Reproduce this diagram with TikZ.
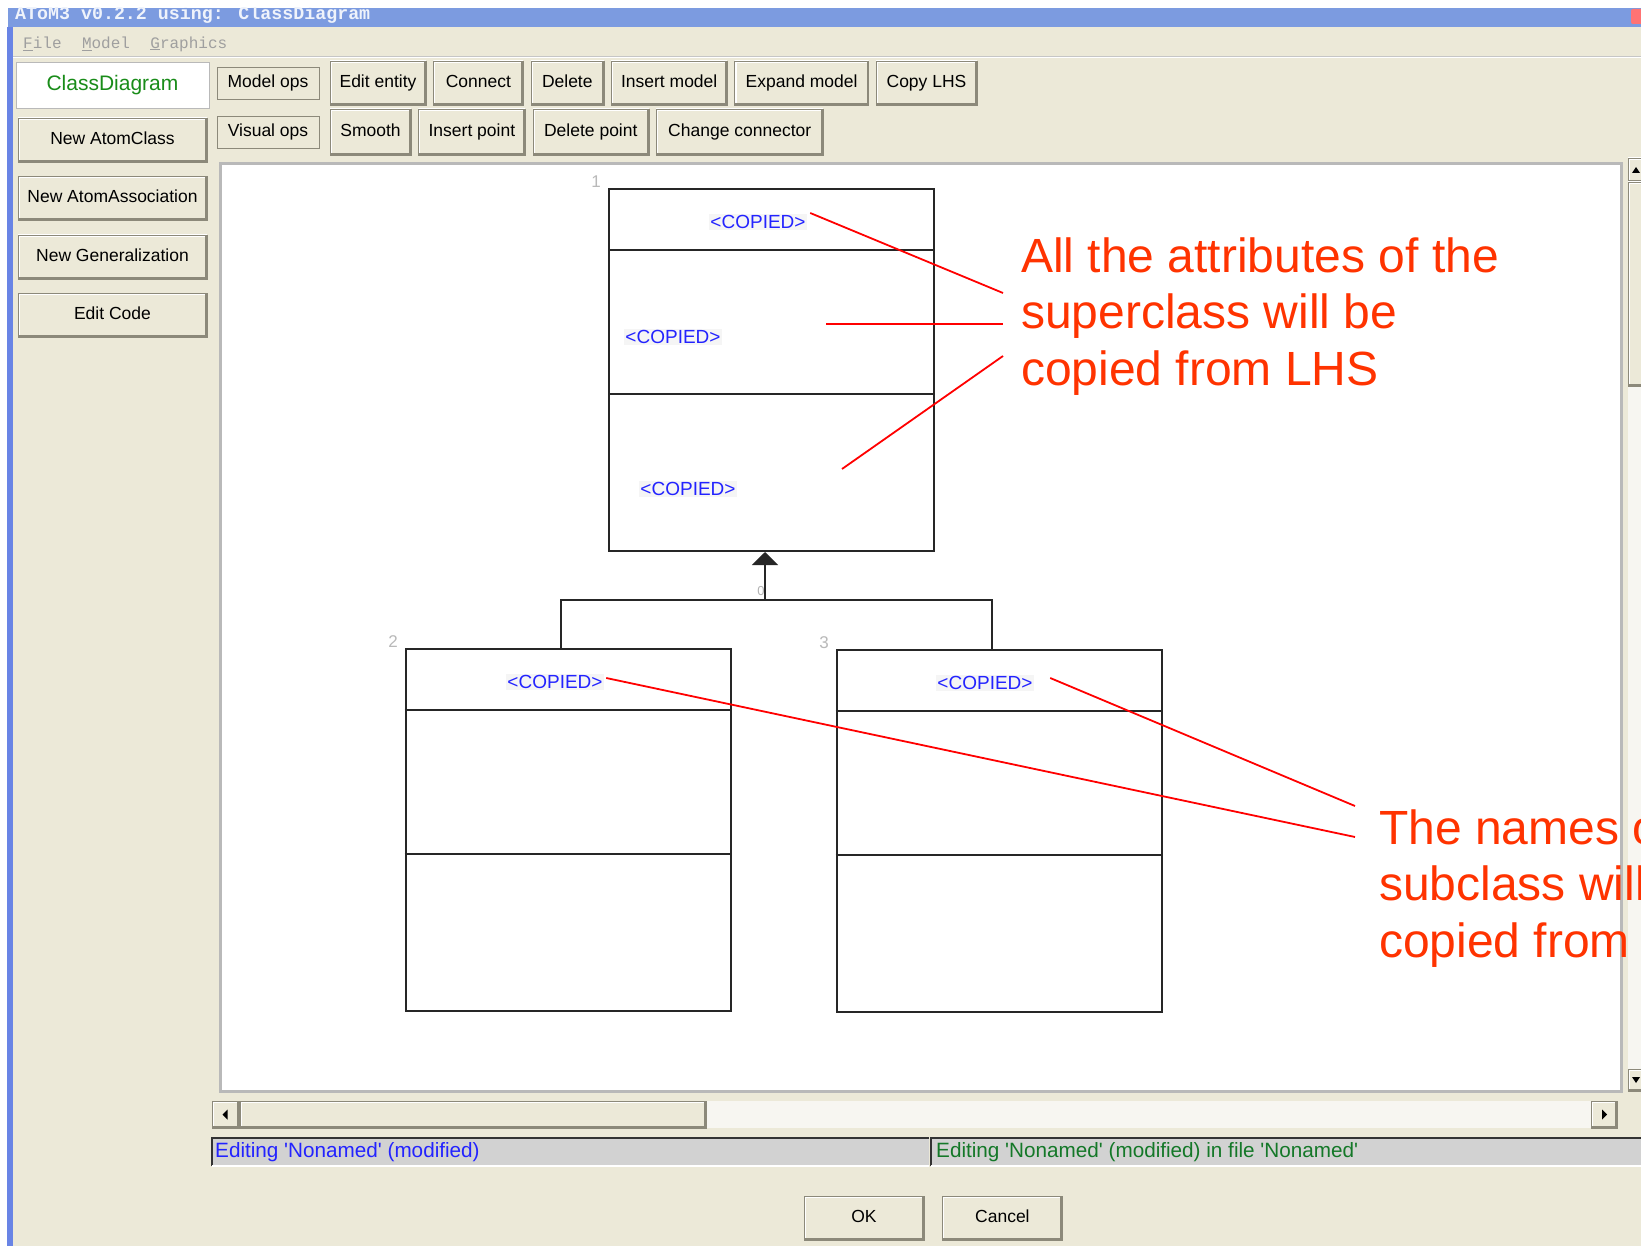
\documentclass[tikz,border=0pt]{standalone}
\usepackage{fontspec}
\setmainfont{Liberation Sans}
\newfontfamily\monofont{Liberation Mono}
\usetikzlibrary{arrows.meta,positioning,calc}

\definecolor{winbg}{RGB}{236,233,216}
\definecolor{btnshadow}{RGB}{140,137,122}
\definecolor{titleblue}{RGB}{124,155,224}
\definecolor{statusgrey}{RGB}{210,210,210}
\definecolor{copiedblue}{RGB}{35,35,255}
\definecolor{cdgreen}{RGB}{25,140,25}
\definecolor{stgreen}{RGB}{20,120,40}
\definecolor{annored}{RGB}{255,51,0}
\definecolor{tracklight}{RGB}{247,246,241}

\begin{document}
\begin{tikzpicture}[x=1pt,y=-1pt,
	btn/.style={draw=btnshadow,fill=winbg,inner sep=0pt,minimum height=44,text height=13,text depth=4,font=\fontsize{17.5}{20}\selectfont,
		path picture={
			\draw[white,line width=4] (path picture bounding box.south west) |- (path picture bounding box.north east);
			\draw[btnshadow,line width=4] (path picture bounding box.south west) -| (path picture bounding box.north east);}},
	flatbox/.style={draw=btnshadow,fill=winbg,inner sep=0pt,minimum width=102,minimum height=32,text height=13,text depth=4,font=\fontsize{17.5}{20}\selectfont},
	menuitem/.style={inner sep=0pt,text=gray!75,font=\monofont\fontsize{16}{18}\selectfont},
	umlcls/.style={draw=black!85,line width=2,fill=white,inner sep=0pt,minimum width=325,minimum height=362},
	copied/.style={text=copiedblue,fill=black!4,inner sep=1.5,font=\fontsize{19}{22}\selectfont},
	clsnum/.style={text=gray!55,font=\fontsize{17}{20}\selectfont},
	status/.style={inner sep=0pt,anchor=west,font=\fontsize{20.7}{24}\selectfont},
	note/.style={text=annored,align=left,inner sep=0pt,anchor=west,font=\fontsize{48}{56.5}\selectfont},
	noteline/.style={red,line width=1.8},
	conn/.style={black!85,line width=2}]
	\useasboundingbox (0,0) rectangle (1641,1246);
	\fill[white] (0,0) rectangle (1641,1246);
	\fill[winbg] (13,27) rectangle (1641,1246);
	\fill[titleblue] (8,8) rectangle (1641,27);
	\fill[titleblue!85!blue] (7,27) rectangle (13,1246);
	\begin{scope}
		\clip (8,8) rectangle (1641,27);
		\node[anchor=base west,inner sep=0pt,text=white!88!titleblue,font=\monofont\bfseries\fontsize{18.3}{20}\selectfont] (title) at (15,20) {AToM3 v0.2.2 using: ClassDiagram};
	\end{scope}
	\fill[red!55!white,rounded corners=2] (1631,9) rectangle (1645,24);

	% menu
	\node[menuitem,anchor=west] (menufile) at (23,44) {\underline{F}ile};
	\node[menuitem,right=20pt of menufile] (menumodel) {\underline{M}odel};
	\node[menuitem,right=20pt of menumodel] (menugraph) {\underline{G}raphics};
	\draw[gray!45] (13,56) -- (1641,56);
	\draw[white,line width=1.5] (13,57.5) -- (1641,57.5);

	% left panel
	\node[draw=gray!55,fill=white,minimum width=193,minimum height=46,inner sep=0pt,text=cdgreen,font=\fontsize{21}{24}\selectfont] (cdtab) at (112.5,85) {ClassDiagram};
	\node[btn,minimum width=189] (newcls) at (112.5,140) {New AtomClass};
	\node[btn,minimum width=189,below=14pt of newcls] (newassoc) {New AtomAssociation};
	\node[btn,minimum width=189,below=14pt of newassoc] (newgen) {New Generalization};
	\node[btn,minimum width=189,below=14pt of newgen] (editcode) {Edit Code};

	% tool rows
	\node[flatbox] (modelops) at (268,83) {Model ops};
	\node[btn,minimum width=96] (editent) at (378,83) {Edit entity};
	\node[btn,minimum width=90,right=7pt of editent] (connect) {Connect};
	\node[btn,minimum width=73,right=7pt of connect] (delete) {Delete};
	\node[btn,minimum width=116,right=7pt of delete] (insmodel) {Insert model};
	\node[btn,minimum width=134,right=7pt of insmodel] (expmodel) {Expand model};
	\node[btn,minimum width=101,right=7pt of expmodel] (copylhs) {Copy LHS};
	\node[flatbox] (visualops) at (268,132) {Visual ops};
	\node[btn,minimum width=81,minimum height=46] (smooth) at (370.5,132) {Smooth};
	\node[btn,minimum width=107,minimum height=46,right=7pt of smooth] (inspoint) {Insert point};
	\node[btn,minimum width=116,minimum height=46,right=7pt of inspoint] (delpoint) {Delete point};
	\node[btn,minimum width=167,minimum height=46,right=7pt of delpoint] (chgconn) {Change connector};

	% canvas and scrollbars
	\draw[gray!55,line width=3,fill=white] (220,164) rectangle (1621,1091);
	\fill[tracklight] (1628,158) rectangle (1641,1091);
	\node[btn,minimum width=16,minimum height=24] (vup) at (1636,170) {};
	\node[btn,minimum width=16,minimum height=204] (vthumb) at (1636,284) {};
	\node[btn,minimum width=16,minimum height=22] (vdown) at (1636,1080) {};
	\fill (vup.center) ++(-4,3) -- ++(8,0) -- ++(-4,-6) -- cycle;
	\fill (vdown.center) ++(-4,-3) -- ++(8,0) -- ++(-4,6) -- cycle;
	\fill[tracklight] (212,1101) rectangle (1617,1128);
	\node[btn,minimum width=27,minimum height=27] (hleft) at (225.5,1114.5) {};
	\node[btn,minimum width=466,minimum height=27] (hthumb) at (473,1114.5) {};
	\node[btn,minimum width=26,minimum height=27] (hright) at (1604,1114.5) {};
	\fill (hleft.center) ++(-3,0) -- ++(5,-5) -- ++(0,10) -- cycle;
	\fill (hright.center) ++(3,0) -- ++(-5,-5) -- ++(0,10) -- cycle;

	% status bars
	\node[fill=statusgrey,minimum width=717,minimum height=28,inner sep=0pt] (stleft) at (570.5,1152) {};
	\node[fill=statusgrey,minimum width=710,minimum height=28,inner sep=0pt] (stright) at (1286,1152) {};
	\foreach \s in {stleft,stright}{
		\draw[black!80,line width=1.5] (\s.south west) |- (\s.north east);
		\draw[white,line width=1.5] (\s.south west) -- (\s.south east);
	}
	\node[status,text=copiedblue] (stlefttxt) at (215,1152) {Editing \textquotesingle Nonamed\textquotesingle{} (modified)};
	\node[status,text=stgreen] (strighttxt) at (936,1152) {Editing \textquotesingle Nonamed\textquotesingle{} (modified) in file \textquotesingle Nonamed\textquotesingle};
	\node[btn,minimum width=120] (okbtn) at (864,1218) {OK};
	\node[btn,minimum width=120,right=18pt of okbtn] (cancelbtn) {Cancel};

	% class diagram
	\node[umlcls] (cls1) at (771.5,370) {};
	\node[umlcls] (cls2) at (568,829.5) {};
	\node[umlcls] (cls3) at (999,831) {};
	\foreach \c in {cls1,cls2,cls3}
		\foreach \d in {62,206}
			\draw[conn] ($(\c.north west)+(0,\d)$) -- ($(\c.north east)+(0,\d)$);
	\node[clsnum] (num1) at (596,182) {1};
	\node[clsnum] (num2) at (393,642) {2};
	\node[clsnum] (num3) at (824,643) {3};
	\node[copied] (cp1top) at (758,222) {<COPIED>};
	\node[copied] (cp1mid) at (673,337) {<COPIED>};
	\node[copied] (cp1bot) at (688,489) {<COPIED>};
	\node[copied] (cp2) at (555,682) {<COPIED>};
	\node[copied] (cp3) at (985,683) {<COPIED>};
	\coordinate (genjoin) at ($(cls1.south)+(-6.5,48)$);
	\draw[conn] ($(cls2.north)+(-7,0)$) |- (genjoin) -| ($(cls3.north)+(-7,0)$);
	\draw[conn,-{Triangle[length=13pt,width=26pt]}] (genjoin) -- ($(cls1.south)+(-6.5,0)$);
	\node[text=gray!60,inner sep=0pt,font=\fontsize{13}{14}\selectfont] (genmark) at (761,591) {0};

	% notes
	\node[note] (superNote) at (1021,316.5) {All the attributes of the\\superclass will be\\copied from LHS};
	\node[note] (subNote) at (1379,888.5) {The names of the\\subclass will be\\copied from LHS};
	\coordinate (a2) at (826,324);
	\coordinate (a3) at (842,469);
	\draw[noteline] ($(cp1top.east)+(3,-9)$) -- ($(superNote.west)+(-18,-23.5)$);
	\draw[noteline] (a2) -- ($(superNote.west)+(-18,7.5)$);
	\draw[noteline] (a3) -- ($(superNote.west)+(-18,39.5)$);
	\draw[noteline] ($(cp2.east)+(2,-4)$) -- ($(subNote.west)+(-24,-51.5)$);
	\draw[noteline] ($(cp3.east)+(16,-5)$) -- ($(subNote.west)+(-24,-82.5)$);
\end{tikzpicture}
\end{document}
